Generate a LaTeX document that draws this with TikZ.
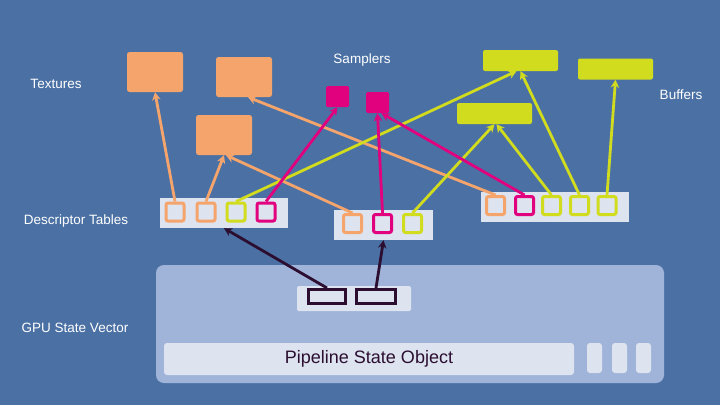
\documentclass[tikz,border=0pt]{standalone}
\usepackage{fontspec}
\setmainfont{Liberation Sans}
\usetikzlibrary{arrows.meta}
\definecolor{bgblue}{HTML}{4B71A4}
\definecolor{texor}{HTML}{F5A46C}
\definecolor{sampm}{HTML}{E1007D}
\definecolor{bufy}{HTML}{D2DC1E}
\definecolor{slotfill}{HTML}{DDE3EF}
\definecolor{gpufill}{HTML}{A0B4D9}
\definecolor{darkp}{HTML}{2B0E30}
\tikzset{
  lbl/.style={text=white, font=\fontsize{13.5}{15}\selectfont, inner sep=0pt},
  texbox/.style={fill=texor, draw=none, rounded corners=2.5pt, minimum width=56pt, minimum height=40pt, inner sep=0pt},
  sampbox/.style={fill=sampm, draw=none, rounded corners=1.5pt, minimum width=23pt, minimum height=21pt, inner sep=0pt},
  bufbox/.style={fill=bufy, draw=none, rounded corners=2pt, minimum width=75pt, minimum height=21pt, inner sep=0pt},
  tablebox/.style={fill=slotfill, draw=none, minimum height=30pt, inner sep=0pt},
  slot/.style={fill=slotfill, draw=#1, line width=3pt, rounded corners=2pt, minimum width=18pt, minimum height=18pt, inner sep=0pt},
  conn/.style={draw=#1, line width=2.8pt, -{Stealth[length=8pt,width=8.5pt]}},
  darkrect/.style={fill=slotfill, draw=darkp, line width=3pt, minimum height=14pt, inner sep=0pt},
  minibar/.style={fill=slotfill, draw=none, rounded corners=3pt, minimum width=15pt, minimum height=30pt, inner sep=0pt}
}
\begin{document}
\begin{tikzpicture}[x=1pt,y=-1pt]
\fill[bgblue] (0,0) rectangle (720,405);
\useasboundingbox (0,0) rectangle (720,405);

% labels
\node[lbl] (lsamp) at (362,60) {Samplers};
\node[lbl] (ltex) at (56,84) {Textures};
\node[lbl] (lbuf) at (681,95) {Buffers};
\node[lbl] (ldt) at (76,221) {Descriptor Tables};
\node[lbl] (lgpu) at (75,328) {GPU State Vector};

% textures
\node[texbox] (T1) at (155,72) {};
\node[texbox] (T2) at (244,77) {};
\node[texbox] (T3) at (224,135) {};
% samplers
\node[sampbox] (S1) at (337.5,96.5) {};
\node[sampbox] (S2) at (377.5,102.5) {};
% buffers
\node[bufbox] (B1) at (520.5,60.5) {};
\node[bufbox] (B2) at (615.5,69) {};
\node[bufbox] (B3) at (494.5,113.5) {};

% GPU state vector
\node[fill=gpufill, rounded corners=8pt, minimum width=508pt, minimum height=118pt, inner sep=0pt] (gpu) at (410,324) {};
\node[fill=slotfill, rounded corners=1.5pt, minimum width=114pt, minimum height=25pt, inner sep=0pt] (inner) at (354,298.5) {};
\node[darkrect, minimum width=37pt] (D1) at (327,296.5) {};
\node[darkrect, minimum width=39pt] (D2) at (376,296.5) {};
\node[fill=slotfill, rounded corners=3pt, minimum width=410pt, minimum height=32pt, inner sep=0pt, text=darkp, font=\fontsize{18}{20}\selectfont] (pso) at (369,359) {Pipeline State Object};
\node[minibar] (m1) at (594.5,358) {};
\node[minibar] (m2) at (619.5,358) {};
\node[minibar] (m3) at (643.5,358) {};

% descriptor tables
\node[tablebox, minimum width=128pt] (DT1) at (224,213) {};
\node[slot=texor] (a1) at (175,212) {};
\node[slot=texor] (a2) at (206,212) {};
\node[slot=bufy] (a3) at (236,212) {};
\node[slot=sampm] (a4) at (266,212) {};

\node[tablebox, minimum width=99pt] (DT2) at (383.5,225) {};
\node[slot=texor] (b1) at (352.5,223.5) {};
\node[slot=sampm] (b2) at (382.5,223.5) {};
\node[slot=bufy] (b3) at (412.5,223.5) {};

\node[tablebox, minimum width=148pt] (DT3) at (555,207) {};
\node[slot=texor] (c1) at (495.5,205.5) {};
\node[slot=sampm] (c2) at (524.5,205.5) {};
\node[slot=bufy] (c3) at (551.5,205.5) {};
\node[slot=bufy] (c4) at (579.5,205.5) {};
\node[slot=bufy] (c5) at (607,205.5) {};

% connectors
\draw[conn=texor] (a1.north) -- (T1.south);
\draw[conn=texor] (a2.north) -- (T3.south);
\draw[conn=texor] (b1.north) -- ([xshift=2pt]T3.south);
\draw[conn=texor] (c1.north) -- ([xshift=4pt]T2.south);
\draw[conn=bufy] (a3.north) -- ([xshift=-4pt]B1.south);
\draw[conn=bufy] (c4.north) -- (B1.south);
\draw[conn=bufy] (b3.north) -- (B3.south);
\draw[conn=bufy] (c3.north) -- ([xshift=2pt]B3.south);
\draw[conn=bufy] (c5.north) -- (B2.south);
\draw[conn=sampm] (a4.north) -- (S1.south);
\draw[conn=sampm] (b2.north) -- (S2.south);
\draw[conn=sampm] (c2.north) -- ([xshift=4pt]S2.south);
\draw[conn=darkp] (D1.north) -- (DT1.south);
\draw[conn=darkp] (D2.north) -- (DT2.south);
\end{tikzpicture}
\end{document}
